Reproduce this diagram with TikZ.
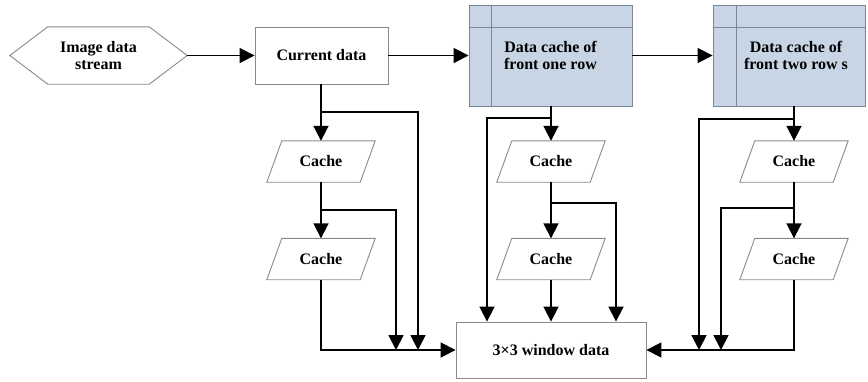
\documentclass[tikz,border=0pt]{standalone}
\usepackage{fontspec}
\setmainfont{Liberation Serif}
\usetikzlibrary{arrows.meta,calc}
\definecolor{cachefill}{HTML}{C8D5E5}
\definecolor{boxgray}{HTML}{8A8A8A}
\definecolor{cachegray}{HTML}{7A8694}
\begin{document}
\begin{tikzpicture}[x=1pt,y=-1pt,
  txt/.style={font=\fontsize{16}{16.5}\selectfont\bfseries, align=center, inner sep=0pt},
  plainbox/.style={txt, draw=boxgray, line width=0.9pt},
  ghost/.style={txt, draw=none},
  rowbox/.style={txt, draw=cachegray, fill=cachefill, line width=0.9pt, minimum height=101pt},
  cachebox/.style={ghost, minimum width=108pt, minimum height=41pt},
  outline/.style={draw=boxgray, line width=0.9pt},
  inner/.style={draw=cachegray, line width=0.9pt},
  conn/.style={line width=1.8pt, black},
  arr/.style={conn, -{Triangle[length=15pt,width=15pt]}}
]
\useasboundingbox (0,0) rectangle (868,381);

% nodes
\node[ghost, minimum width=177pt, minimum height=57pt] (hex) at (98.5,55.5) {Image data\\stream};
\node[plainbox, minimum width=133pt, minimum height=57pt] (cur) at (321.5,55.5) {Current data};
\node[rowbox, minimum width=163pt] (dc1) at (550.5,55.5) {Data cache of\\front one row};
\node[rowbox, minimum width=152pt] (dc2) at (789,55.5) {\hspace*{14pt}Data cache of\\\hspace*{14pt}front two row s};
\node[cachebox] (c1) at (321,161.5) {Cache};
\node[cachebox] (c2) at (321,259) {Cache};
\node[cachebox] (c3) at (551,161.5) {Cache};
\node[cachebox] (c4) at (551,259) {Cache};
\node[cachebox] (c5) at (794,161.5) {Cache};
\node[cachebox] (c6) at (794,259) {Cache};
\node[plainbox, minimum width=190pt, minimum height=56pt] (win) at (551,350) {3×3 window data};

% hexagon outline
\draw[outline] (hex.west) -- ([xshift=38pt]hex.north west) -- ([xshift=-38pt]hex.north east)
  -- (hex.east) -- ([xshift=-38pt]hex.south east) -- ([xshift=38pt]hex.south west) -- cycle;

% parallelograms
\foreach \n in {c1,c2,c3,c4,c5,c6}
  \draw[outline] ([xshift=15pt]\n.north west) -- (\n.north east)
    -- ([xshift=-15pt]\n.south east) -- (\n.south west) -- cycle;

% inner lines of row caches
\draw[inner] ([xshift=23pt]dc1.north west) -- ([xshift=23pt]dc1.south west);
\draw[inner] ([yshift=-23pt]dc1.north west) -- ([yshift=-23pt]dc1.north east);
\draw[inner] ([xshift=24pt]dc2.north west) -- ([xshift=24pt]dc2.south west);
\draw[inner] ([yshift=-23pt]dc2.north west) -- ([yshift=-23pt]dc2.north east);

% top row connectors
\draw[arr] (hex.east) -- (cur.west);
\draw[arr] (cur.east) -- (dc1.west);
\draw[arr] (dc1.east) -- (dc2.west);

% branch coordinates
\coordinate (b1) at (418,112);
\coordinate (b2) at (396,210);
\coordinate (b3) at (487,118);
\coordinate (b4) at (616,203);
\coordinate (b5) at (699,119);
\coordinate (b6) at (721,208);

% left column
\draw[arr] (cur.south -| c1.north) -- (c1.north);
\draw[arr] (c1.north |- b1) -- (b1) -- (b1 |- win.west);
\draw[arr] (c1.south) -- (c2.north);
\draw[arr] (c1.south |- b2) -- (b2) -- (b2 |- win.west);
\draw[arr] (c2.south) -- (c2.south |- win.west) -- (win.west);

% middle column
\draw[arr] (dc1.south -| c3.north) -- (c3.north);
\draw[arr] (c3.north |- b3) -- (b3) -- (b3 |- win.north);
\draw[arr] (c3.south) -- (c4.north);
\draw[arr] (c3.south |- b4) -- (b4) -- (b4 |- win.north);
\draw[arr] (c4.south) -- (win.north -| c4.south);

% right column
\draw[arr] (dc2.south -| c5.north) -- (c5.north);
\draw[arr] (c5.north |- b5) -- (b5) -- (b5 |- win.east);
\draw[arr] (c5.south) -- (c6.north);
\draw[arr] (c5.south |- b6) -- (b6) -- (b6 |- win.east);
\draw[arr] (c6.south) -- (c6.south |- win.east) -- (win.east);
\end{tikzpicture}
\end{document}
